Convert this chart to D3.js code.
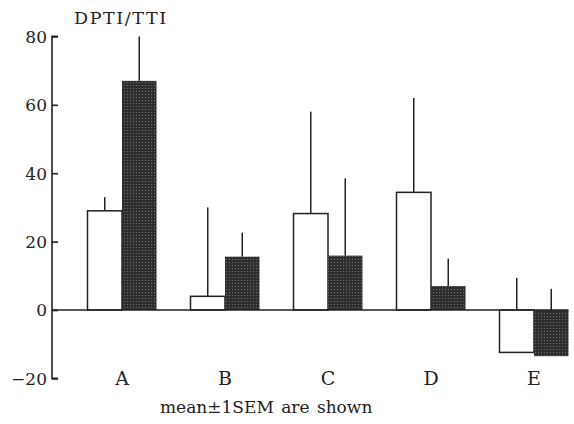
<!DOCTYPE html>
<html lang="en">
<head>
<meta charset="UTF-8">
<title>DPTI/TTI bars</title>
<script src="https://d3js.org/d3.v7.min.js"></script>
<style>
  body { margin: 0; background: #fff; }
  svg text { font-family: "DejaVu Serif", serif; }
</style>
</head>
<body>
<div id="chart"></div>
<script>
// values
const categories = ["A", "B", "C", "D", "E"];
const whiteMeans = [29, 4, 28.2, 34.4, -12.4];
const whiteErrTop = [33, 30, 58, 62, 9.4];
const darkMeans = [67, 15.6, 15.9, 7, -13.5];
const darkErrTop = [80, 22.6, 38.5, 15, 6.2];
const yTicks = [-20, 0, 20, 40, 60, 80];

const width = 574, height = 424;
const axisX = 52;

const svg = d3.select("#chart").append("svg")
    .attr("width", width)
    .attr("height", height);

// dotted halftone fill for the dark bars
const pat = svg.append("defs").append("pattern")
    .attr("id", "dots")
    .attr("width", 3).attr("height", 3)
    .attr("patternUnits", "userSpaceOnUse");
pat.append("rect").attr("width", 3).attr("height", 3).attr("fill", "#2e2e2e");
pat.append("circle").attr("cx", 1.5).attr("cy", 1.5).attr("r", 0.6).attr("fill", "#777");

const y = d3.scaleLinear().domain([-20, 80]).range([378.4, 36.4]);

const x = d3.scaleBand()
    .domain(categories)
    .range([70.5, 585.5])
    .paddingInner(0.33)
    .paddingOuter(0.165);

const sub = d3.scaleBand().domain(["white", "dark"]).range([0, x.bandwidth()]);

// y axis, ticks pointing inward
const yAxis = d3.axisRight(y)
    .tickValues(yTicks)
    .tickSize(6)
    .tickFormat(d => d < 0 ? "\u2212" + Math.abs(d) : d);

const gy = svg.append("g")
    .attr("transform", `translate(${axisX},0)`)
    .call(yAxis);
gy.select(".domain").attr("d", `M6,${y(80)}H0V${y(-20)}H6`).attr("stroke", "#222").attr("stroke-width", 1.6).attr("fill", "none");
gy.selectAll(".tick line").attr("stroke", "#222").attr("stroke-width", 1.6);
gy.selectAll(".tick text")
    .attr("x", -5)
    .attr("text-anchor", "end")
    .attr("font-size", 17)
    .attr("fill", "#222")
    .attr("dy", "0.35em");

// bars
function drawBars(means, errTop, key, fill) {
    const g = svg.append("g");
    categories.forEach((c, i) => {
        const x0 = x(c) + sub(key);
        const w = sub.bandwidth();
        const v = means[i];
        g.append("rect")
            .attr("x", x0)
            .attr("y", y(Math.max(0, v)))
            .attr("width", w)
            .attr("height", Math.abs(y(v) - y(0)))
            .attr("fill", fill)
            .attr("stroke", key === "white" ? "#222" : "none")
            .attr("stroke-width", 1.5);
        g.append("line")
            .attr("x1", x0 + w / 2).attr("x2", x0 + w / 2)
            .attr("y1", y(Math.max(0, v)))
            .attr("y2", y(errTop[i]))
            .attr("stroke", "#222")
            .attr("stroke-width", 1.5);
    });
}
drawBars(whiteMeans, whiteErrTop, "white", "#fff");
drawBars(darkMeans, darkErrTop, "dark", "url(#dots)");

// zero line
svg.append("line")
    .attr("x1", axisX).attr("x2", x("E") + x.bandwidth())
    .attr("y1", y(0)).attr("y2", y(0))
    .attr("stroke", "#222").attr("stroke-width", 1.6);

// category labels
svg.selectAll(".cat")
    .data(categories)
    .enter().append("text")
    .attr("x", d => x(d) + x.bandwidth() / 2)
    .attr("y", 385)
    .attr("text-anchor", "middle")
    .attr("font-size", 19)
    .attr("fill", "#222")
    .text(d => d);

svg.append("text")
    .attr("x", 74).attr("y", 24)
    .attr("font-size", 17.5)
    .attr("letter-spacing", 1.6)
    .attr("fill", "#222")
    .text("DPTI/TTI");

svg.append("text")
    .attr("x", 160).attr("y", 413)
    .attr("font-size", 17)
    .attr("word-spacing", 2)
    .attr("fill", "#222")
    .text("mean\u00b11SEM are shown");
</script>
</body>
</html>
